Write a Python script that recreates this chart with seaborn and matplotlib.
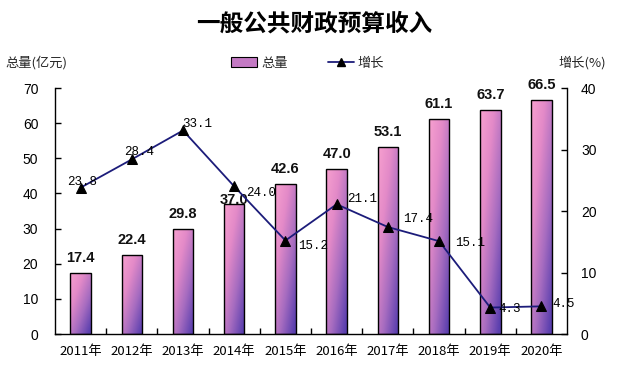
import numpy as np
import pandas as pd
import matplotlib
matplotlib.use("Agg")
import matplotlib.pyplot as plt
from matplotlib.colors import LinearSegmentedColormap
from matplotlib.lines import Line2D
from matplotlib.patches import Patch
import seaborn as sns

# data
years = ["2011年", "2012年", "2013年", "2014年", "2015年",
         "2016年", "2017年", "2018年", "2019年", "2020年"]
total = [17.4, 22.4, 29.8, 37.0, 42.6, 47.0, 53.1, 61.1, 63.7, 66.5]
growth = [23.8, 28.4, 33.1, 24.0, 15.2, 21.1, 17.4, 15.1, 4.3, 4.5]

sns.set_theme(style="white")
plt.rcParams['font.family'] = ['Noto Sans CJK SC', 'DejaVu Sans']
plt.rcParams['axes.unicode_minus'] = False

df = pd.DataFrame({"year": years, "total": total, "growth": growth})

fig = plt.figure(figsize=(6.28, 3.78), dpi=100)
ax = fig.add_axes([0.0876, 0.1164, 0.8154, 0.6507])

sns.barplot(data=df, x="year", y="total", ax=ax, width=0.4,
            color="#e98bc6", edgecolor="black", linewidth=1.0, saturation=1)

# diagonal pink -> purple gradient inside each bar
cmap = LinearSegmentedColormap.from_list(
    "pinkpurple", ["#f7a0cf", "#e38ac8", "#a66cc0", "#5a3fae"])
gx, gy = np.meshgrid(np.linspace(0, 1, 40), np.linspace(0, 1, 80))
grad = 0.55 * gx + 0.6 * gy
for bar in ax.patches:
    x0, y0 = bar.get_x(), bar.get_y()
    w, h = bar.get_width(), bar.get_height()
    bar.set_facecolor("none")
    im = ax.imshow(grad, cmap=cmap, vmin=0, vmax=1.1, aspect="auto",
                   extent=(x0, x0 + w, y0, y0 + h), origin="upper",
                   zorder=bar.get_zorder() - 0.1, interpolation="bilinear")
    im.set_clip_path(bar)

for i, v in enumerate(total):
    dy = -2 if v == 37.0 else 6
    ax.annotate(f"{v:.1f}", (i, v), xytext=(0, dy), textcoords="offset points",
                ha="center", va="bottom", fontsize=10.5, fontweight="bold",
                family=["Liberation Sans", "DejaVu Sans"], color="#111111")

ax.set_xlim(-0.5, 9.5)
ax.set_ylim(0, 70)
ax.set_yticks(range(0, 71, 10))
ax.set_xlabel("")
ax.set_ylabel("")

ax2 = ax.twinx()
sns.lineplot(x=np.arange(len(growth)), y=growth, ax=ax2, color="#1c1c7a",
             linewidth=1.3, marker="^", markersize=7,
             markerfacecolor="black", markeredgecolor="black")
ax2.set_ylim(0, 40)
ax2.set_yticks(range(0, 41, 10))
ax.set_xlim(-0.5, 9.5)

# growth labels (positions relative to the markers)
offsets = [(1, 4), (5, 5), (10, 5), (19, -5), (20, -4),
           (18, 4), (22, 6), (22, -1), (14, -1), (16, 2)]
for i, (v, (dx, dy)) in enumerate(zip(growth, offsets)):
    ax2.annotate(f"{v:.1f}", (i, v), xytext=(dx, dy), textcoords="offset points",
                 ha="center", va="center", fontsize=9,
                 family=["Liberation Mono", "DejaVu Sans Mono"], color="black")

for a in (ax, ax2):
    for s in a.spines.values():
        s.set_visible(False)
ax.spines["left"].set_visible(True)
ax.spines["bottom"].set_visible(True)
ax2.spines["right"].set_visible(True)
for s in (ax.spines["left"], ax.spines["bottom"], ax2.spines["right"]):
    s.set_color("black")
    s.set_linewidth(1.0)

ax.tick_params(axis="y", which="major", left=True, direction="in", length=4,
               width=1, color="black", labelcolor="black", labelsize=10, pad=12)
ax2.tick_params(axis="y", which="major", right=True, direction="in", length=4,
                width=1, color="black", labelcolor="black", labelsize=10, pad=10)
for lab in ax.get_yticklabels() + ax2.get_yticklabels():
    lab.set_family(["Liberation Sans", "DejaVu Sans"])

ax.set_xticks(np.arange(0.5, 9, 1), minor=True)
ax.tick_params(axis="x", which="major", bottom=False, length=0, labelsize=9.5,
               pad=8, labelcolor="black")
ax.tick_params(axis="x", which="minor", bottom=True, direction="in", length=4,
               width=1, color="black")
ax2.tick_params(axis="x", which="both", bottom=False, top=False,
                labelbottom=False, labeltop=False)

fig.text(0.5, 0.937, "一般公共财政预算收入", ha="center", va="center",
         fontsize=17, fontweight="bold", color="black")
fig.text(0.008, 0.833, "总量(亿元)", ha="left", va="center", fontsize=9.5)
fig.text(0.965, 0.833, "增长(%)", ha="right", va="center", fontsize=9.5)

handles = [Patch(facecolor="#c47ac4", edgecolor="black", linewidth=0.8),
           Line2D([], [], color="#1c1c7a", linewidth=1.3, marker="^",
                  markersize=6, markerfacecolor="black", markeredgecolor="black")]
fig.legend(handles, ["总量", "增长"], loc="center", bbox_to_anchor=(0.49, 0.833),
           ncol=2, frameon=False, fontsize=9.5, handlelength=2.0,
           handleheight=0.8, columnspacing=3.0, handletextpad=0.3)

fig.savefig("out.png", dpi=100, facecolor="white")
